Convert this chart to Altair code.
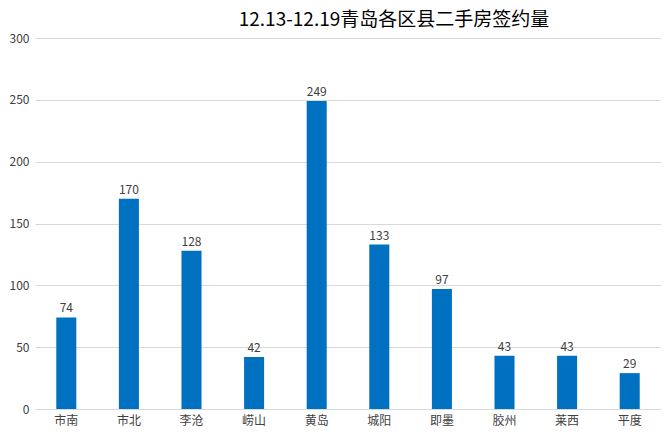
import altair as alt
import pandas as pd

districts = ["市南", "市北", "李沧", "崂山", "黄岛", "城阳", "即墨", "胶州", "莱西", "平度"]
counts = [74, 170, 128, 42, 249, 133, 97, 43, 43, 29]
y_ticks = [0, 50, 100, 150, 200, 250, 300]
title_text = "12.13-12.19青岛各区县二手房签约量"

df = pd.DataFrame({"district": districts, "count": counts})
FONT = "Noto Sans CJK SC"

x_enc = alt.X("district:N", sort=districts, title=None,
              scale=alt.Scale(paddingInner=0.68, paddingOuter=0.34),
              axis=alt.Axis(labelAngle=0, ticks=False, domain=False, grid=False, labelPadding=6,
                            labelFont=FONT, labelFontSize=12, labelColor="#404040"))
y_enc = alt.Y("count:Q", title=None,
              scale=alt.Scale(domain=[0, 300], nice=False),
              axis=alt.Axis(values=y_ticks, ticks=False, domain=False, grid=True,
                            gridColor="#d9d9d9", labelPadding=6,
                            labelFont=FONT, labelFontSize=12, labelColor="#404040"))

base = alt.Chart(df).encode(x=x_enc, y=y_enc)
bars = base.mark_bar(color="#0070C0")
labels = base.mark_text(dy=-9, font=FONT, fontSize=12, color="#404040").encode(text="count:Q")

chart = (bars + labels).properties(
    width=626, height=371,
    padding={"left": 1, "top": 3, "right": 0, "bottom": 0},
    title=alt.TitleParams(title_text, font=FONT, fontSize=19, fontWeight="normal",
                          color="#000000", anchor="middle", dx=46, offset=2),
).configure(
    background="white",
    view=alt.ViewConfig(stroke="transparent", strokeWidth=0),
    axis=alt.AxisConfig(domain=False, domainOpacity=0),
    axisX=alt.AxisConfig(grid=False, gridOpacity=0, domain=False),
)

chart.save("out.html", embed_options={"renderer": "svg", "actions": False})
